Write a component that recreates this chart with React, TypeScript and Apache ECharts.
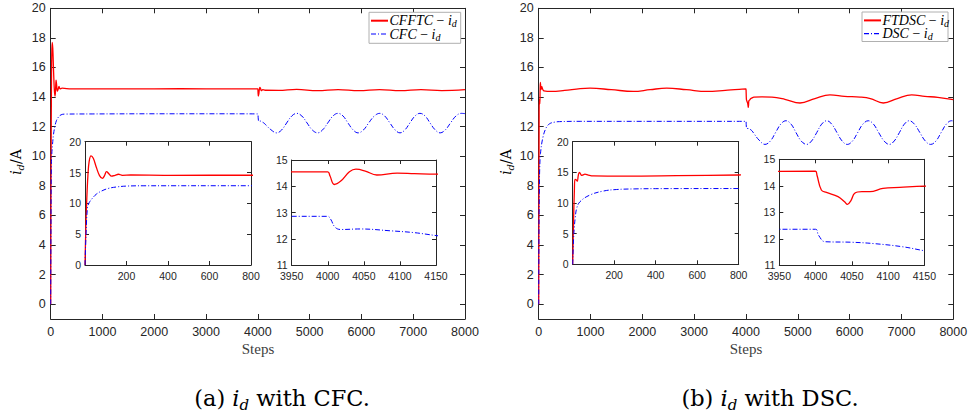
import React, { useEffect, useRef } from 'react';
import * as echarts from 'echarts';

// ---------- tick labels ----------
const MAIN_X_TICKS = [0, 1000, 2000, 3000, 4000, 5000, 6000, 7000, 8000];
const MAIN_Y_TICKS = [0, 2, 4, 6, 8, 10, 12, 14, 16, 18, 20];
const INSET1_X_TICKS = [200, 400, 600, 800];
const INSET1_Y_TICKS = [0, 5, 10, 15, 20];
const INSET2_X_TICKS = [3950, 4000, 4050, 4100, 4150];
const INSET2_Y_TICKS = [11, 12, 13, 14, 15];

// ---------- panel (a): CFFTC vs CFC ----------
const A_RED: number[][] = [
  [0, 0], [4, 6], [8, 10.2], [14, 14.5], [20, 16.8], [29, 17.7], [40, 17.3], [55, 15.8], [70, 14.5],
  [84, 14.06], [94, 14.5], [104, 15.15], [115, 14.8], [128, 14.4], [145, 14.55], [161, 14.72], [180, 14.55],
  [220, 14.6], [400, 14.55], [800, 14.56], [1500, 14.55], [2500, 14.57], [3500, 14.55], [4000, 14.55],
  [4003, 14.4], [4009, 14.07], [4018, 14.2], [4030, 14.55], [4039, 14.65], [4052, 14.58], [4068, 14.43],
  [4096, 14.5], [4120, 14.48], [4150, 14.46], [4400, 14.45], [4750, 14.52], [5150, 14.43], [5550, 14.5],
  [5950, 14.43], [6350, 14.5], [6750, 14.43], [7150, 14.5], [7550, 14.44], [8000, 14.5],
];
const A_BLUE: number[][] = [
  [0, 0], [5, 5], [12, 9.3], [20, 10.1], [35, 10.8], [55, 11.5], [80, 12], [110, 12.4], [150, 12.65],
  [200, 12.8], [280, 12.85], [800, 12.86], [2000, 12.87], [3000, 12.87], [4000, 12.86], [4004, 12.75],
  [4010, 12.45], [4018, 12.36], [4045, 12.38], [4087, 12.31], [4120, 12.24], [4150, 12.13], [4250, 11.8],
  [4363, 11.58], [4460, 11.78], [4556, 12.25], [4655, 12.72], [4750, 12.9], [4850, 12.72], [4950, 12.25],
  [5050, 11.78], [5155, 11.58], [5250, 11.78], [5350, 12.25], [5450, 12.72], [5547, 12.9], [5645, 12.72],
  [5740, 12.25], [5840, 11.78], [5935, 11.58], [6040, 11.78], [6140, 12.25], [6250, 12.72], [6355, 12.9],
  [6450, 12.72], [6550, 12.25], [6650, 11.78], [6745, 11.58], [6840, 11.78], [6935, 12.25], [7035, 12.72],
  [7130, 12.9], [7230, 12.72], [7325, 12.25], [7425, 11.78], [7520, 11.58], [7620, 11.78], [7720, 12.25],
  [7825, 12.72], [7930, 12.9], [8000, 12.88],
];

// ---------- panel (b): FTDSC vs DSC ----------
const B_RED: number[][] = [
  [0, 0], [4, 7], [8, 12], [11, 13.85], [16, 13.8], [19, 13.8], [22, 13.55], [27, 14.5], [32, 15.0],
  [37, 14.8], [43, 14.5], [50, 14.6], [59, 14.7], [75, 14.55], [100, 14.42], [250, 14.38], [500, 14.45],
  [800, 14.57], [990, 14.6], [1400, 14.5], [1826, 14.38], [2150, 14.5], [2470, 14.6], [2850, 14.5],
  [3241, 14.38], [3600, 14.45], [4000, 14.55], [4002, 14.4], [4008, 13.84], [4015, 13.75], [4031, 13.59],
  [4040, 13.4], [4044, 13.3], [4049, 13.45], [4054, 13.72], [4064, 13.78], [4075, 13.78], [4093, 13.9],
  [4116, 13.94], [4150, 13.99], [4300, 14.02], [4500, 14.0], [4750, 13.85], [5042, 13.6], [5330, 13.9],
  [5620, 14.15], [5900, 14.05], [6200, 14.0], [6400, 13.9], [6649, 13.6], [6920, 13.9], [7197, 14.15],
  [7450, 14.05], [7700, 13.98], [8000, 13.82],
];
const B_BLUE: number[][] = [
  [0, 0], [4, 4], [8, 6.2], [12, 7.5], [19, 9.1], [35, 10.2], [83, 11.3], [148, 11.95], [212, 12.2],
  [300, 12.3], [400, 12.34], [800, 12.36], [2000, 12.36], [4000, 12.36], [4004, 12.14], [4013, 11.89],
  [4050, 11.87], [4080, 11.82], [4120, 11.7], [4150, 11.55], [4250, 11.1], [4366, 10.8], [4470, 11.03],
  [4570, 11.6], [4670, 12.17], [4771, 12.4], [4870, 12.17], [4965, 11.6], [5065, 11.03], [5170, 10.8],
  [5265, 11.03], [5365, 11.6], [5460, 12.17], [5557, 12.4], [5655, 12.17], [5755, 11.6], [5855, 11.03],
  [5954, 10.8], [6055, 11.03], [6155, 11.6], [6255, 12.17], [6359, 12.4], [6460, 12.17], [6560, 11.6],
  [6665, 11.03], [6765, 10.8], [6860, 11.03], [6960, 11.6], [7055, 12.17], [7150, 12.4], [7250, 12.17],
  [7355, 11.6], [7460, 11.03], [7563, 10.8], [7665, 11.03], [7765, 11.6], [7865, 12.17], [7968, 12.4],
  [8000, 12.38],
];

const LEGEND_A = ['CFFTC', 'CFC'];
const LEGEND_B = ['FTDSC', 'DSC'];
const CAPTIONS = ['(a) ', '(b) '];
const CAPTION_TAILS = [' with CFC.', ' with DSC.'];

const AX = '#262626';
const RED = '#ff0000';
const BLUE = '#0000ff';
const DASH = [5, 2, 1, 2];

type G = { left: number; top: number; width: number; height: number };
const GRIDS: G[] = [
  { left: 50.7, top: 8.3, width: 414.3, height: 310.7 },
  { left: 85, top: 141.7, width: 166, height: 123.3 },
  { left: 291.7, top: 160, width: 144.3, height: 105.3 },
  { left: 538.7, top: 8.3, width: 414.6, height: 310.7 },
  { left: 572.7, top: 141.7, width: 166, height: 122.6 },
  { left: 779.3, top: 159.3, width: 145, height: 106 },
];

function axes(gi: number, xr: number[], yr: number[], xt: number[], yt: number[], fs: number, tl: number, xm: number, ym: number) {
  const common = (grid: number) => ({
    type: 'value' as const,
    gridIndex: grid,
    splitLine: { show: false },
    axisLine: { show: true, onZero: false, lineStyle: { color: AX, width: 1 } },
  });
  const lab = (vals: number[], margin: number) => ({
    show: true, customValues: vals, fontSize: fs, color: AX, fontFamily: 'Liberation Sans', margin,
    formatter: (v: number) => String(v),
  });
  const tick = (vals: number[]) => ({ show: true, inside: true, length: tl, customValues: vals, lineStyle: { color: AX, width: 1 } });
  const x = [
    { ...common(gi), min: xr[0], max: xr[1], position: 'bottom', axisTick: tick(xt), axisLabel: lab(xt, xm) },
    { ...common(gi), min: xr[0], max: xr[1], position: 'top', axisTick: tick(xt), axisLabel: { show: false } },
  ];
  const y = [
    { ...common(gi), min: yr[0], max: yr[1], position: 'left', axisTick: tick(yt), axisLabel: lab(yt, ym) },
    { ...common(gi), min: yr[0], max: yr[1], position: 'right', axisTick: tick(yt), axisLabel: { show: false } },
  ];
  return { x, y };
}

function seriesFor(gi: number, red: number[][], blue: number[][], names: string[]) {
  const base = { type: 'line' as const, xAxisIndex: gi * 2, yAxisIndex: gi * 2, symbol: 'none', smooth: 0.4, clip: true, silent: true };
  return [
    { ...base, name: names[0], data: red, lineStyle: { color: RED, width: 1.3 } },
    { ...base, name: names[1], data: blue, lineStyle: { color: BLUE, width: 1, type: DASH } },
  ];
}

const serif = 'Liberation Serif';
const legendRich = {
  m: { fontFamily: serif, fontStyle: 'italic', fontSize: 14, color: '#000', lineHeight: 16, verticalAlign: 'middle' },
  r: { fontFamily: serif, fontSize: 14, color: '#000', lineHeight: 16, verticalAlign: 'middle' },
  s: { fontFamily: serif, fontStyle: 'italic', fontSize: 10, color: '#000', lineHeight: 9, verticalAlign: 'bottom' },
};
const capRich = {
  r: { fontFamily: 'DejaVu Serif', fontSize: 22.5, color: '#000', lineHeight: 28, verticalAlign: 'middle' },
  m: { fontFamily: 'DejaVu Serif', fontStyle: 'italic', fontSize: 22.5, color: '#000', lineHeight: 28, verticalAlign: 'middle' },
  s: { fontFamily: 'DejaVu Serif', fontStyle: 'italic', fontSize: 15, color: '#000', lineHeight: 15, verticalAlign: 'bottom' },
};
const ylRich = {
  r: { fontFamily: 'DejaVu Serif', fontSize: 14, color: '#262626', lineHeight: 18, verticalAlign: 'middle' },
  m: { fontFamily: 'DejaVu Serif', fontStyle: 'italic', fontSize: 14, color: '#262626', lineHeight: 18, verticalAlign: 'middle' },
  s: { fontFamily: 'DejaVu Serif', fontStyle: 'italic', fontSize: 10, color: '#262626', lineHeight: 10, verticalAlign: 'bottom' },
};

function legend(x: number, y: number, w: number, h: number, names: string[]) {
  return [
    { type: 'rect', shape: { x, y, width: w, height: h }, style: { fill: '#fff', stroke: '#b0b0b0', lineWidth: 1 }, z: 100 },
    { type: 'line', shape: { x1: x + 2, y1: y + 8.4, x2: x + 19, y2: y + 8.4 }, style: { stroke: RED, lineWidth: 2 }, z: 101 },
    { type: 'line', shape: { x1: x + 2, y1: y + 21.7, x2: x + 19, y2: y + 21.7 }, style: { stroke: BLUE, lineWidth: 1.2, lineDash: DASH }, z: 101 },
    { type: 'text', x: x + 20.5, y: y + 8.4, z: 102, style: { text: `{m|${names[0]}}{r| − }{m|i}{s|d}`, rich: legendRich, align: 'left', verticalAlign: 'middle' } },
    { type: 'text', x: x + 20.5, y: y + 21.7, z: 102, style: { text: `{m|${names[1]}}{r| − }{m|i}{s|d}`, rich: legendRich, align: 'left', verticalAlign: 'middle' } },
  ];
}

function texts(cx: number, ylx: number, idx: number) {
  return [
    { type: 'text', x: ylx, y: 162, rotation: Math.PI / 2, style: { text: '{m|i}{s|d}{r|/A}', rich: ylRich, align: 'center', verticalAlign: 'middle' } },
    { type: 'text', x: cx, y: 349, style: { text: 'Steps', fontFamily: 'Liberation Serif', fontSize: 15, fill: '#404040', align: 'center', verticalAlign: 'middle' } },
    { type: 'text', x: cx + 24, y: 398, style: { text: `{r|${CAPTIONS[idx]}}{m|i}{s|d}{r|${CAPTION_TAILS[idx]}}`, rich: capRich, align: 'center', verticalAlign: 'middle' } },
  ];
}

function buildOption() {
  const xAxis: any[] = [];
  const yAxis: any[] = [];
  const specs = [
    { xr: [0, 8000], yr: [-1, 20], xt: MAIN_X_TICKS, yt: MAIN_Y_TICKS, fs: 12.5, tl: 5, xm: 6, ym: 5 },
    { xr: [0, 800], yr: [0, 20], xt: INSET1_X_TICKS, yt: INSET1_Y_TICKS, fs: 10.5, tl: 4, xm: 5, ym: 4 },
    { xr: [3950, 4150], yr: [11, 15], xt: INSET2_X_TICKS, yt: INSET2_Y_TICKS, fs: 10.5, tl: 4, xm: 5, ym: 4 },
  ];
  const series: any[] = [];
  for (let p = 0; p < 2; p++) {
    for (let k = 0; k < 3; k++) {
      const gi = p * 3 + k;
      const s = specs[k];
      const a = axes(gi, s.xr, s.yr, s.xt, s.yt, s.fs, s.tl, s.xm, s.ym);
      xAxis.push(...a.x);
      yAxis.push(...a.y);
      series.push(...seriesFor(gi, p === 0 ? A_RED : B_RED, p === 0 ? A_BLUE : B_BLUE, p === 0 ? LEGEND_A : LEGEND_B));
    }
  }
  return {
    animation: false,
    backgroundColor: '#fff',
    grid: GRIDS.map((g) => ({ ...g, containLabel: false })),
    xAxis,
    yAxis,
    series,
    graphic: [
      ...legend(369, 12.3, 91.7, 31, LEGEND_A),
      ...legend(862, 12, 86, 29.5, LEGEND_B),
      ...texts(258, 16, 0),
      ...texts(746, 506, 1),
    ],
  };
}

export default function App() {
  const ref = useRef<HTMLDivElement>(null);
  useEffect(() => {
    const chart = echarts.init(ref.current!, null, { renderer: 'svg', width: 972, height: 415 });
    chart.setOption(buildOption() as any);
    return () => chart.dispose();
  }, []);
  return <div ref={ref} style={{ position: 'fixed', left: 0, top: 0, width: 972, height: 415, background: '#fff' }} />;
}
